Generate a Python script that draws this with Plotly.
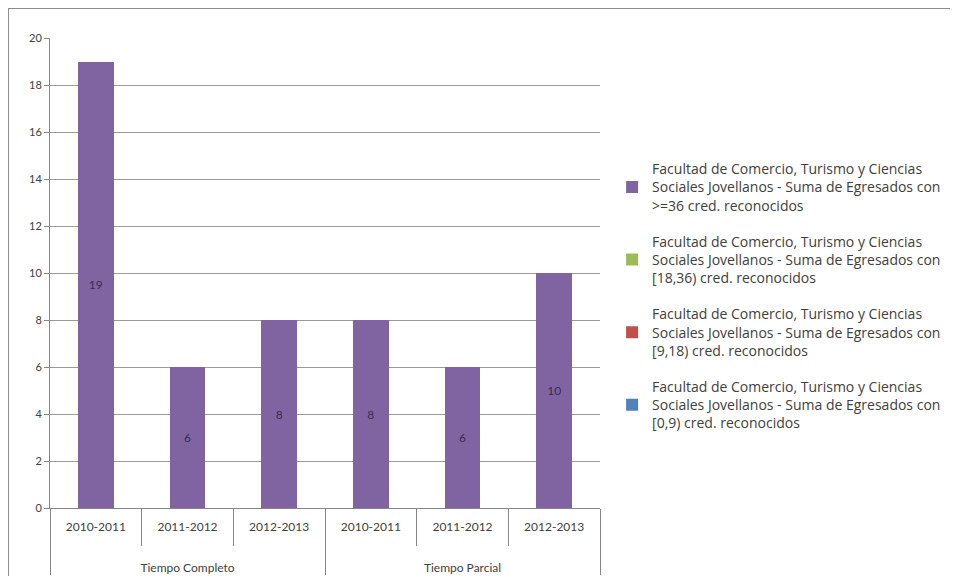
import plotly.graph_objects as go

groups = ["<br><br>Tiempo Completo"] * 3 + ["<br><br>Tiempo Parcial"] * 3
years = ["2010-2011", "2011-2012", "2012-2013", "2010-2011", "2011-2012", "2012-2013"]

s36 = [19, 6, 8, 8, 6, 10]
s18_36 = [0, 0, 0, 0, 0, 0]
s9_18 = [0, 0, 0, 0, 0, 0]
s0_9 = [0, 0, 0, 0, 0, 0]

names = [
    "Facultad de Comercio, Turismo y Ciencias<br>Sociales Jovellanos - Suma de Egresados con<br>>=36 cred. reconocidos",
    "Facultad de Comercio, Turismo y Ciencias<br>Sociales Jovellanos - Suma de Egresados con<br>[18,36) cred. reconocidos",
    "Facultad de Comercio, Turismo y Ciencias<br>Sociales Jovellanos - Suma de Egresados con<br>[9,18) cred. reconocidos",
    "Facultad de Comercio, Turismo y Ciencias<br>Sociales Jovellanos - Suma de Egresados con<br>[0,9) cred. reconocidos",
]
colors = ["#8064A2", "#9BBB59", "#C0504D", "#4F81BD"]
series = [s36, s18_36, s9_18, s0_9]

FONT = "Lato, 'Liberation Sans', sans-serif"
LFONT = "'Open Sans', Lato, sans-serif"
TXT = "#404040"

fig = go.Figure()
for i, (vals, nm, col) in enumerate(zip(series, names, colors)):
    fig.add_trace(go.Bar(
        x=[groups, years], y=vals, name=nm, legendgroup=f"g{i}",
        marker=dict(color=col, line=dict(width=0)),
        text=[str(v) for v in vals] if i == 0 else None,
        textposition="inside", insidetextanchor="middle",
        textfont=dict(family=FONT, size=12, color="#3a2a55"),
        width=0.39,
    ))

fig.update_layout(
    barmode="stack",
    width=958, height=576,
    margin=dict(l=42, r=366, t=30, b=76),
    paper_bgcolor="white", plot_bgcolor="white",
    font=dict(family=FONT, size=11, color=TXT),
    showlegend=True,
    legend=dict(
        traceorder="grouped",
        x=1.022, y=0.755, xanchor="left", yanchor="top",
        font=dict(family=LFONT, size=14, color=TXT),
        tracegroupgap=15,
        bgcolor="rgba(0,0,0,0)",
    ),
    xaxis=dict(
        type="multicategory", automargin=False,
        showline=True, linecolor="#868686", linewidth=1,
        ticks="outside", tickson="boundaries", ticklen=37, tickcolor="#868686",
        showdividers=True, dividercolor="#868686", dividerwidth=1,
        tickfont=dict(family=FONT, size=12, color=TXT),
        ticklabelstandoff=8,
        showgrid=False,
    ),
    yaxis=dict(
        range=[0, 20], dtick=2, automargin=False,
        showline=True, linecolor="#868686", linewidth=1,
        ticks="outside", ticklen=5, tickcolor="#868686",
        showgrid=True, gridcolor="#9a9a9a", gridwidth=1,
        tickfont=dict(family=FONT, size=11, color=TXT),
        zeroline=False,
    ),
)

fig.add_shape(type="line", xref="paper", yref="paper",
              x0=-0.0764, x1=1.75, y0=1.0638, y1=1.0638,
              line=dict(color="#8c8c8c", width=2))
fig.add_shape(type="line", xref="paper", yref="paper",
              x0=-0.0764, x1=-0.0764, y0=1.0638, y1=-0.2,
              line=dict(color="#8c8c8c", width=2))

fig.write_html("out.html")
